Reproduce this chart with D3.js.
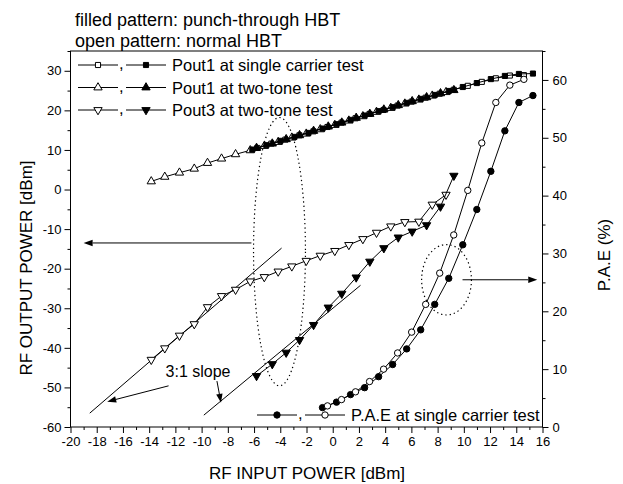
<!DOCTYPE html>
<html>
<head>
<meta charset="utf-8">
<script src="https://cdn.jsdelivr.net/npm/d3@7"></script>
<style>
  body { margin: 0; background: #fff; }
  text { font-family: Arial, "Liberation Sans", sans-serif; fill: #000; }
</style>
</head>
<body>
<script>
// ---- data ----
// Pout1, single carrier, punch-through HBT (filled squares)
var scFilledX = [-6.13,-5.06,-3.99,-2.92,-1.85,-0.78,0.29,1.36,2.43,3.50,4.57,5.64,6.71,7.78,8.85,9.92,10.99,12.06,13.13,14.20,15.27];
var scFilledY = [10.1,11.2,12.3,13.3,14.3,15.4,16.5,17.6,18.7,19.8,20.8,21.9,22.9,23.9,24.9,25.9,26.9,27.9,28.7,29.2,29.3];
// Pout1, single carrier, normal HBT (open squares)
var scOpenX = [-5.75,-4.68,-3.61,-2.54,-1.47,-0.40,0.67,1.74,2.81,3.88,4.95,6.02,7.09,8.16,9.23,10.30,11.37,12.44,13.51,14.58];
var scOpenY = [10.5,11.6,12.6,13.7,14.7,15.8,16.9,18.0,19.1,20.1,21.2,22.2,23.2,24.2,25.2,26.2,27.2,28.1,28.8,28.9];
// two-tone, normal HBT (open triangles)
var ttOpenX = [-13.84,-12.81,-11.69,-10.56,-9.55,-8.48,-7.41,-6.29,-5.22,-4.16,-3.12,-2.02,-0.95,0.16,1.23,2.30,3.34,4.43,5.50,6.57,7.59,8.64];
var pout1OpenY = [2.05,3.2,4.25,5.25,6.7,7.8,8.9,9.9,11.0,12.0,13.1,14.1,15.2,16.3,17.4,18.5,19.6,20.6,21.7,22.7,23.7,24.6];
var pout3OpenY = [-43.0,-40.1,-36.9,-34.0,-29.7,-26.9,-25.3,-23.2,-22.1,-20.7,-19.4,-18.0,-16.7,-15.5,-14.0,-12.5,-10.9,-9.3,-8.2,-8.1,-3.8,-1.3];
// two-tone, punch-through HBT (filled triangles)
var ttFilledX = [-5.81,-4.61,-3.55,-2.53,-1.46,-0.34,0.69,1.79,2.83,3.90,5.00,6.06,7.16,8.22,9.24];
var pout1FilledY = [10.5,11.6,12.7,13.7,14.8,15.9,16.9,18.1,19.1,20.2,21.3,22.3,23.3,24.3,25.1];
var pout3FilledY = [-47.1,-44.1,-41.2,-38.0,-34.2,-29.8,-26.3,-22.2,-18.2,-14.8,-12.1,-10.6,-9.0,-4.3,3.5];
// P.A.E (%) at single carrier test (right axis)
var paeFilledX = [-0.78,0.29,1.36,2.43,3.50,4.57,5.64,6.71,7.78,8.85,9.92,10.99,12.06,13.13,14.20,15.27];
var paeFilledY = [3.35,4.3,5.6,6.8,8.7,10.8,13.5,16.8,21.2,25.7,31.5,37.6,44.2,51.2,56.1,57.3];
var paeOpenX = [-0.40,0.67,1.74,2.81,3.88,4.95,6.02,7.09,8.16,9.23,10.30,11.37,12.44,13.51,14.58];
var paeOpenY = [3.65,4.74,6.08,7.86,10.0,12.8,16.4,21.2,26.6,33.2,40.9,49.1,56.1,59.1,60.1];

// axes
var xTicks = d3.range(-20, 17, 2);
var yLeftTicks = d3.range(-60, 31, 10);
var yRightTicks = d3.range(0, 61, 10);

// annotations, in data units (left axis)
var slopeLines = [[[-18.53,-56.5],[-3.9,-14.8]], [[-9.83,-57.0],[2.12,-24.2]]];
var slopeArrows = [[[-12.52,-49.6],[-17.2,-53.6]], [[-8.83,-48.4],[-8.52,-53.9]]];
var sideArrows = [[[-6.2,-13.5],[-19.0,-13.5]], [[9.9,-22.8],[15.6,-22.8]]];
var ellipses = [{cx:-4.06, cy:-15.7, rx:1.98, ry:33.9}, {cx:8.68, cy:-22.8, rx:1.9, ry:8.9}];

var legendRows = ["Pout1 at single carrier test", "Pout1 at two-tone test", "Pout3 at two-tone test"];
var legendShapes = ["square", "up", "down"];

// ---- drawing ----
var width = 623, height = 484;
var L = 70.5, R = 542.5, T = 51, B = 427;

var x = d3.scaleLinear().domain([-20, 16]).range([L, R]);
var yL = d3.scaleLinear().domain([-60, 35]).range([B, T]);
var yR = d3.scaleLinear().domain([0, 65]).range([B, T]);

var svg = d3.select("body").append("svg")
  .attr("width", width)
  .attr("height", height);

var fmt = function(d){ return String(d); };

svg.append("g").attr("transform", "translate(0," + B + ")")
  .call(d3.axisBottom(x).tickValues(xTicks).tickSize(6).tickPadding(4).tickFormat(fmt));
svg.append("g").attr("transform", "translate(0," + B + ")")
  .call(d3.axisBottom(x).tickValues(d3.range(-19, 16, 2)).tickSize(3).tickFormat(""));
svg.append("g").attr("transform", "translate(" + L + ",0)")
  .call(d3.axisLeft(yL).tickValues(yLeftTicks).tickSize(6).tickPadding(3).tickFormat(fmt));
svg.append("g").attr("transform", "translate(" + L + ",0)")
  .call(d3.axisLeft(yL).tickValues(d3.range(-55, 36, 10)).tickSize(3).tickFormat(""));
svg.append("g").attr("transform", "translate(" + R + ",0)")
  .call(d3.axisRight(yR).tickValues(yRightTicks).tickSize(6).tickPadding(4).tickFormat(fmt));
svg.append("g").attr("transform", "translate(" + R + ",0)")
  .call(d3.axisRight(yR).tickValues(d3.range(5, 66, 10)).tickSize(3).tickFormat(""));

svg.selectAll(".domain").remove();
svg.selectAll(".tick line").attr("stroke", "#000");
svg.selectAll(".tick text").style("font-size", "13px").attr("fill", "#000");

svg.append("rect")
  .attr("x", L).attr("y", T)
  .attr("width", R - L).attr("height", B - T)
  .attr("fill", "none").attr("stroke", "#000").attr("stroke-width", 1);

// titles
svg.append("text").attr("x", 75).attr("y", 26).style("font-size", "18px")
  .text("filled pattern: punch-through HBT");
svg.append("text").attr("x", 75).attr("y", 47).style("font-size", "18px")
  .text("open pattern: normal HBT");
svg.append("text").attr("x", 307).attr("y", 479).attr("text-anchor", "middle")
  .style("font-size", "17px").text("RF INPUT POWER [dBm]");
svg.append("text").attr("transform", "translate(32,268) rotate(-90)")
  .attr("text-anchor", "middle").style("font-size", "17px").text("RF OUTPUT POWER [dBm]");
svg.append("text").attr("transform", "translate(610,255) rotate(-90)")
  .attr("text-anchor", "middle").style("font-size", "17px").text("P.A.E (%)");

// helpers
function zip(xs, ys){ return xs.map(function(v, i){ return [v, ys[i]]; }); }

var symSquare = d3.symbol().type(d3.symbolSquare).size(26);
var symTri = d3.symbol().type(d3.symbolTriangle).size(30);

function marker(g, shape, filled, px, py){
  var fill = filled ? "#000" : "#fff";
  if(shape == "circle"){
    g.append("circle").attr("cx", px).attr("cy", py).attr("r", 3.2)
      .attr("fill", fill).attr("stroke", "#000").attr("stroke-width", 1);
  } else if(shape == "square"){
    g.append("path").attr("d", symSquare()).attr("transform", "translate(" + px + "," + py + ")")
      .attr("fill", fill).attr("stroke", "#000").attr("stroke-width", 1);
  } else {
    var rot = shape == "down" ? " rotate(180)" : "";
    g.append("path").attr("d", symTri()).attr("transform", "translate(" + px + "," + py + ")" + rot)
      .attr("fill", fill).attr("stroke", "#000").attr("stroke-width", 1);
  }
}

function series(pts, yScale, shape, filled){
  var line = d3.line().x(function(d){ return x(d[0]); }).y(function(d){ return yScale(d[1]); });
  var g = svg.append("g");
  g.append("path").datum(pts).attr("d", line)
    .attr("fill", "none").attr("stroke", "#000").attr("stroke-width", 1);
  pts.forEach(function(d){ marker(g, shape, filled, x(d[0]), yScale(d[1])); });
}

// annotations
var dataLine = d3.line().x(function(d){ return x(d[0]); }).y(function(d){ return yL(d[1]); });
slopeLines.forEach(function(s){
  svg.append("path").attr("d", dataLine(s)).attr("stroke", "#000").attr("stroke-width", 1).attr("fill", "none");
});

function arrow(s){
  var x0 = x(s[0][0]), y0 = yL(s[0][1]), x1 = x(s[1][0]), y1 = yL(s[1][1]);
  var a = Math.atan2(y1 - y0, x1 - x0), len = 9, w = 3.2;
  var bx = x1 - len * Math.cos(a), by = y1 - len * Math.sin(a);
  svg.append("line").attr("x1", x0).attr("y1", y0).attr("x2", bx).attr("y2", by)
    .attr("stroke", "#000").attr("stroke-width", 1);
  svg.append("path")
    .attr("d", "M" + x1 + "," + y1 +
      "L" + (bx + w * Math.sin(a)) + "," + (by - w * Math.cos(a)) +
      "L" + (bx - w * Math.sin(a)) + "," + (by + w * Math.cos(a)) + "Z")
    .attr("fill", "#000");
}
slopeArrows.forEach(arrow);
sideArrows.forEach(arrow);

ellipses.forEach(function(e){
  svg.append("ellipse")
    .attr("cx", x(e.cx)).attr("cy", yL(e.cy))
    .attr("rx", x(e.cx + e.rx) - x(e.cx)).attr("ry", yL(e.cy - e.ry) - yL(e.cy))
    .attr("fill", "none").attr("stroke", "#000").attr("stroke-width", 1.2)
    .attr("stroke-dasharray", "1.3,3");
});

svg.append("text").attr("x", x(-12.75)).attr("y", yL(-47.4)).style("font-size", "16px").text("3:1 slope");

// data series
series(zip(ttOpenX, pout1OpenY), yL, "up", false);
series(zip(scOpenX, scOpenY), yL, "square", false);
series(zip(scFilledX, scFilledY), yL, "square", true);
series(zip(ttFilledX, pout1FilledY), yL, "up", true);
series(zip(ttOpenX, pout3OpenY), yL, "down", false);
series(zip(ttFilledX, pout3FilledY), yL, "down", true);
series(zip(paeFilledX, paeFilledY), yR, "circle", true);
series(zip(paeOpenX, paeOpenY), yR, "circle", false);

// legends
function legendEntry(gx0, gy, shapeA, filledA, shapeB, filledB, label){
  var g = svg.append("g");
  [[gx0, shapeA, filledA], [gx0 + 48, shapeB, filledB]].forEach(function(s){
    g.append("line").attr("x1", s[0]).attr("x2", s[0] + 40).attr("y1", gy).attr("y2", gy)
      .attr("stroke", "#000").attr("stroke-width", 1);
    marker(g, s[1], s[2], s[0] + 20, gy);
  });
  g.append("text").attr("x", gx0 + 41).attr("y", gy + 4).style("font-size", "16.5px").text(",");
  g.append("text").attr("x", gx0 + 94).attr("y", gy + 6).style("font-size", "16.5px").text(label);
}
legendRows.forEach(function(label, i){
  legendEntry(78, 65 + i * 22.5, legendShapes[i], false, legendShapes[i], true, label);
});
legendEntry(257, 415, "circle", true, "circle", false, "P.A.E at single carrier test");
</script>
</body>
</html>
